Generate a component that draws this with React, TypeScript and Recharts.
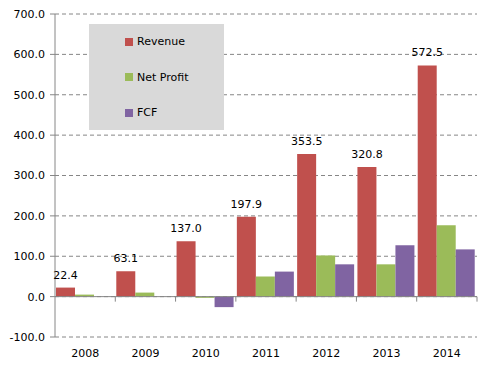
import React from 'react';
import {
  BarChart,
  Bar,
  XAxis,
  YAxis,
  CartesianGrid,
  LabelList,
  ReferenceLine,
} from 'recharts';

const years = ['2008', '2009', '2010', '2011', '2012', '2013', '2014'];
const revenue = [22.4, 63.1, 137.0, 197.9, 353.5, 320.8, 572.5];
const netProfit = [5, 10, -3, 50, 102, 80, 177];
const fcf = [0, 0, -26, 62, 80, 127, 117];
const yTicks = [-100, 0, 100, 200, 300, 400, 500, 600, 700];

const series = [
  { key: 'Revenue', color: '#c0504d' },
  { key: 'Net Profit', color: '#9bbb59' },
  { key: 'FCF', color: '#8064a2' },
];

const data = years.map((name, i) => ({
  name,
  Revenue: revenue[i],
  'Net Profit': netProfit[i],
  FCF: fcf[i],
}));

const axisColor = '#868686';
const font = 'DejaVu Sans, Verdana, sans-serif';

// zero line with small tick marks at category boundaries
function ZeroLine(props: any) {
  const { x1, x2, y1 } = props;
  const n = years.length;
  const step = (x2 - x1) / n;
  const marks = [];
  for (let i = 1; i <= n; i++) {
    const x = x1 + step * i;
    marks.push(<line key={i} x1={x} x2={x} y1={y1} y2={y1 + 5} stroke={axisColor} strokeWidth={1} />);
  }
  return (
    <g>
      <line x1={x1} x2={x2} y1={y1} y2={y1} stroke={axisColor} strokeWidth={1} />
      {marks}
    </g>
  );
}

function LegendBox() {
  return (
    <div
      style={{
        position: 'absolute',
        left: 89,
        top: 24,
        background: '#d9d9d9',
        width: 135,
        height: 106,
        boxSizing: 'border-box',
        paddingTop: 0,
        paddingLeft: 36,
        fontFamily: font,
        fontSize: 11,
        color: '#000',
      }}
    >
      {series.map((s) => (
        <div key={s.key} style={{ display: 'flex', alignItems: 'center', height: 35.5 }}>
          <span style={{ width: 8, height: 8, background: s.color, marginRight: 4, display: 'inline-block' }} />
          <span>{s.key}</span>
        </div>
      ))}
    </div>
  );
}

export default function App() {
  return (
    <div style={{ position: 'absolute', left: 0, top: 0, width: 489, height: 370, background: '#fff' }}>
      <BarChart
        width={489}
        height={370}
        data={data}
        margin={{ top: 14, right: 12, left: 0, bottom: 8 }}
        barCategoryGap={1}
        barGap={0}
      >
        <CartesianGrid vertical={false} stroke={axisColor} strokeDasharray="4 3" />
        <XAxis
          dataKey="name"
          axisLine={false}
          tickLine={false}
          tickSize={0}
          tickMargin={12}
          height={25}
          tick={{ fill: '#000', fontSize: 11, fontFamily: font }}
        />
        <YAxis
          width={55}
          domain={[-100, 700]}
          ticks={yTicks}
          interval={0}
          tickFormatter={(v: number) => v.toFixed(1)}
          stroke={axisColor}
          tickSize={5}
          tickMargin={5}
          tick={{ fill: '#000', fontSize: 11, fontFamily: font }}
        />
        <ReferenceLine y={0} stroke={axisColor} shape={ZeroLine} />
        {series.map((s) => (
          <Bar key={s.key} dataKey={s.key} fill={s.color} isAnimationActive={false}>
            {s.key === 'Revenue' && (
              <LabelList
                dataKey="Revenue"
                position="top"
                offset={9}
                formatter={(v: any) => Number(v).toFixed(1)}
                style={{ fill: '#000', fontSize: 11, fontFamily: font }}
              />
            )}
          </Bar>
        ))}
      </BarChart>
      <LegendBox />
    </div>
  );
}
